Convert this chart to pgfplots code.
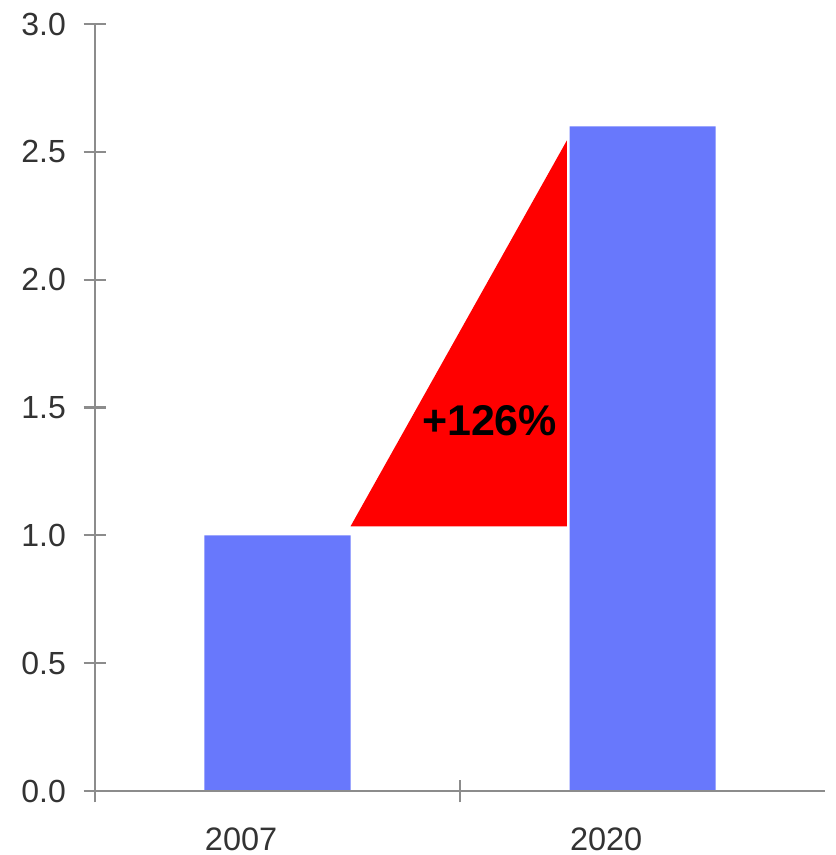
\documentclass[border=0pt]{standalone}
\usepackage{fontspec}
\setmainfont{Liberation Sans}
\usepackage{pgfplots}
\pgfplotsset{compat=1.18}
\definecolor{barblue}{HTML}{6878FC}
\definecolor{axgray}{HTML}{8C8C8C}
\definecolor{labgray}{HTML}{333333}
\begin{document}
\begin{tikzpicture}
\begin{axis}[
  scale only axis,
  width=292pt, height=306.8pt,
  xmin=0, xmax=2, ymin=0, ymax=3,
  axis x line*=bottom, axis y line*=left,
  axis line style={-, draw=axgray, line width=1pt},
  axis on top,
  /pgf/number format/assume math mode=true,
  xtick={0,1}, xticklabels={,},
  ytick={0,0.5,...,3},
  yticklabel style={xshift=-3.6pt,
    /pgf/number format/fixed, /pgf/number format/fixed zerofill,
    /pgf/number format/precision=1},
  tick align=center,
  major tick length=9pt,
  tick style={draw=axgray, line width=0.9pt},
  ticklabel style={font=\fontsize{12.8}{14}\selectfont, text=labgray},
  extra x ticks={0.3,1.3},
  extra x tick labels={2007,2020},
  extra x tick style={major tick length=0pt,
    tick label style={anchor=north west, inner sep=0pt, yshift=-14.5pt,
      font=\fontsize{13}{15}\selectfont, text=labgray}},
]
\addplot[ybar, bar width=0.4, fill=barblue, draw=none]
  coordinates {(0.5,1.0) (1.5,2.6)};
\addplot[fill=red, draw=none]
  coordinates {(0.7,1.035) (1.293,2.545) (1.293,1.035)} -- cycle;
\node[font=\bfseries\fontsize{17.2}{20}\selectfont] at (axis cs:1.081,1.447) {+126\%};
\end{axis}
\pgfresetboundingbox
\path[use as bounding box] (-38pt,-25.6pt) rectangle (296pt,316.4pt);
\end{tikzpicture}
\end{document}
